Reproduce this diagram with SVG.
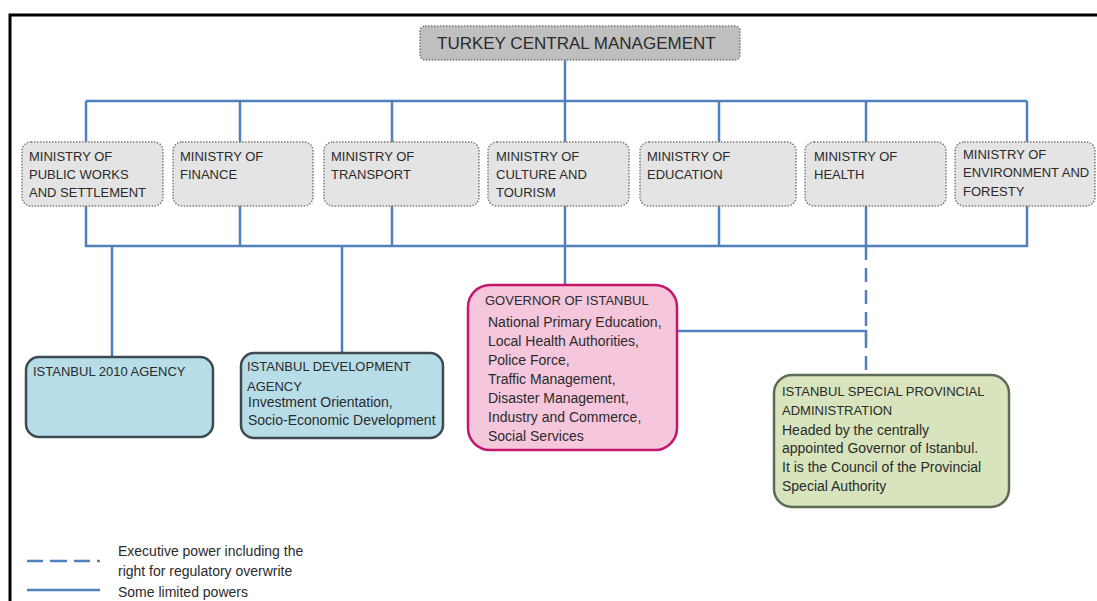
<svg xmlns="http://www.w3.org/2000/svg" width="1097" height="601" viewBox="0 0 1097 601">
<style>
text{font-family:"Liberation Sans",Arial,sans-serif;fill:#2b2b2b}
.cap{font-size:13px}
.body{font-size:14px}
.min{fill:#e4e4e4;stroke:#7a7a7a;stroke-width:1.5;stroke-dasharray:1.5 1.5}
.ln{fill:none;stroke:#4f81bd;stroke-width:2.5}
.dash{fill:none;stroke:#4f81bd;stroke-width:2.5;stroke-dasharray:14 8}
.blue{fill:#b7dde8;stroke:#3d4a52;stroke-width:2.5}
</style>
<rect x="0" y="0" width="1097" height="601" fill="#ffffff"/>
<path d="M10 620 V15 H1110" fill="none" stroke="#000" stroke-width="3"/>

<g id="connectors">
<path class="ln" d="M565 60 V101 M86 101 H1027 M86 101 V142 M240 101 V142 M392 101 V142 M565 101 V142 M719 101 V142 M866 101 V142 M1027 101 V142"/>
<path class="ln" d="M86 206 V246 H1027 V206 M240 206 V246 M392 206 V246 M565 206 V285 M719 206 V246 M866 206 V246"/>
<path class="ln" d="M112 246 V357 M342 246 V353"/>
<path class="ln" d="M677 331 H866 V337"/>
<path class="dash" d="M866 246 V375"/>
</g>

<g id="top">
<rect x="420" y="26" width="320" height="34" rx="5" fill="#bfbfbf" stroke="#7a7a7a" stroke-width="1.5" stroke-dasharray="1.5 1.5"/>
<text x="437" y="49" font-size="17">TURKEY CENTRAL MANAGEMENT</text>
</g>

<g id="m1"><rect class="min" x="22" y="142" width="141" height="64" rx="9"/>
<text class="cap" x="29" y="160.5">MINISTRY OF</text><text class="cap" x="29" y="178.5">PUBLIC  WORKS</text><text class="cap" x="29" y="196.5">AND  SETTLEMENT</text></g>
<g id="m2"><rect class="min" x="173" y="142" width="140" height="64" rx="9"/>
<text class="cap" x="180" y="160.5">MINISTRY OF</text><text class="cap" x="180" y="178.5">FINANCE</text></g>
<g id="m3"><rect class="min" x="324" y="142" width="155" height="64" rx="9"/>
<text class="cap" x="331" y="160.5">MINISTRY OF</text><text class="cap" x="331" y="178.5">TRANSPORT</text></g>
<g id="m4"><rect class="min" x="488" y="142" width="141" height="64" rx="9"/>
<text class="cap" x="496" y="160.5">MINISTRY OF</text><text class="cap" x="496" y="178.5">CULTURE AND</text><text class="cap" x="496" y="196.5">TOURISM</text></g>
<g id="m5"><rect class="min" x="640" y="142" width="156" height="64" rx="9"/>
<text class="cap" x="647" y="160.5">MINISTRY OF</text><text class="cap" x="647" y="178.5">EDUCATION</text></g>
<g id="m6"><rect class="min" x="805" y="142" width="141" height="64" rx="9"/>
<text class="cap" x="814" y="160.5">MINISTRY OF</text><text class="cap" x="814" y="178.5">HEALTH</text></g>
<g id="m7"><rect class="min" x="955" y="142" width="140" height="64" rx="9"/>
<text class="cap" x="963" y="158.5">MINISTRY OF</text><text class="cap" x="963" y="176.5">ENVIRONMENT AND</text><text class="cap" x="963" y="195.5">FORESTY</text></g>

<g id="agency2010"><rect class="blue" x="26" y="357" width="187" height="80" rx="13"/>
<text class="cap" x="33" y="376">ISTANBUL 2010 AGENCY</text></g>

<g id="ida"><rect class="blue" x="241" y="353" width="202" height="85" rx="13"/>
<text class="cap" x="247" y="371">ISTANBUL DEVELOPMENT</text>
<text class="cap" x="247" y="391">AGENCY</text>
<text class="body" x="248" y="407">Investment  Orientation,</text>
<text class="body" x="248" y="425">Socio-Economic Development</text></g>

<g id="governor"><rect x="468" y="285" width="209" height="165" rx="22" fill="#f5c6dc" stroke="#c4166d" stroke-width="2.5"/>
<text class="cap" x="485" y="305">GOVERNOR OF ISTANBUL</text>
<text class="body" x="488" y="327">National Primary Education,</text>
<text class="body" x="488" y="346">Local Health Authorities,</text>
<text class="body" x="488" y="365">Police Force,</text>
<text class="body" x="488" y="384">Traffic Management,</text>
<text class="body" x="488" y="403">Disaster Management,</text>
<text class="body" x="488" y="422">Industry and Commerce,</text>
<text class="body" x="488" y="441">Social Services</text></g>

<g id="special"><rect x="774" y="375" width="235" height="132" rx="18" fill="#d7e4bd" stroke="#5e6b55" stroke-width="2.5"/>
<text class="cap" x="782" y="396">ISTANBUL SPECIAL PROVINCIAL</text>
<text class="cap" x="782" y="415">ADMINISTRATION</text>
<text class="body" x="782" y="435">Headed by the centrally</text>
<text class="body" x="782" y="453">appointed Governor of Istanbul.</text>
<text class="body" x="782" y="472">It is the Council of the Provincial</text>
<text class="body" x="782" y="491">Special Authority</text></g>

<g id="legend">
<path d="M27 561 H43 M50 561 H67 M74 561 H90 M97 561 H100" fill="none" stroke="#4f81bd" stroke-width="2.5"/>
<path d="M27 590 H100" fill="none" stroke="#4f81bd" stroke-width="2.5"/>
<text class="body" x="118" y="556">Executive power  including the</text>
<text class="body" x="118" y="576">right for regulatory overwrite</text>
<text class="body" x="118" y="597">Some limited powers</text>
</g>
</svg>
